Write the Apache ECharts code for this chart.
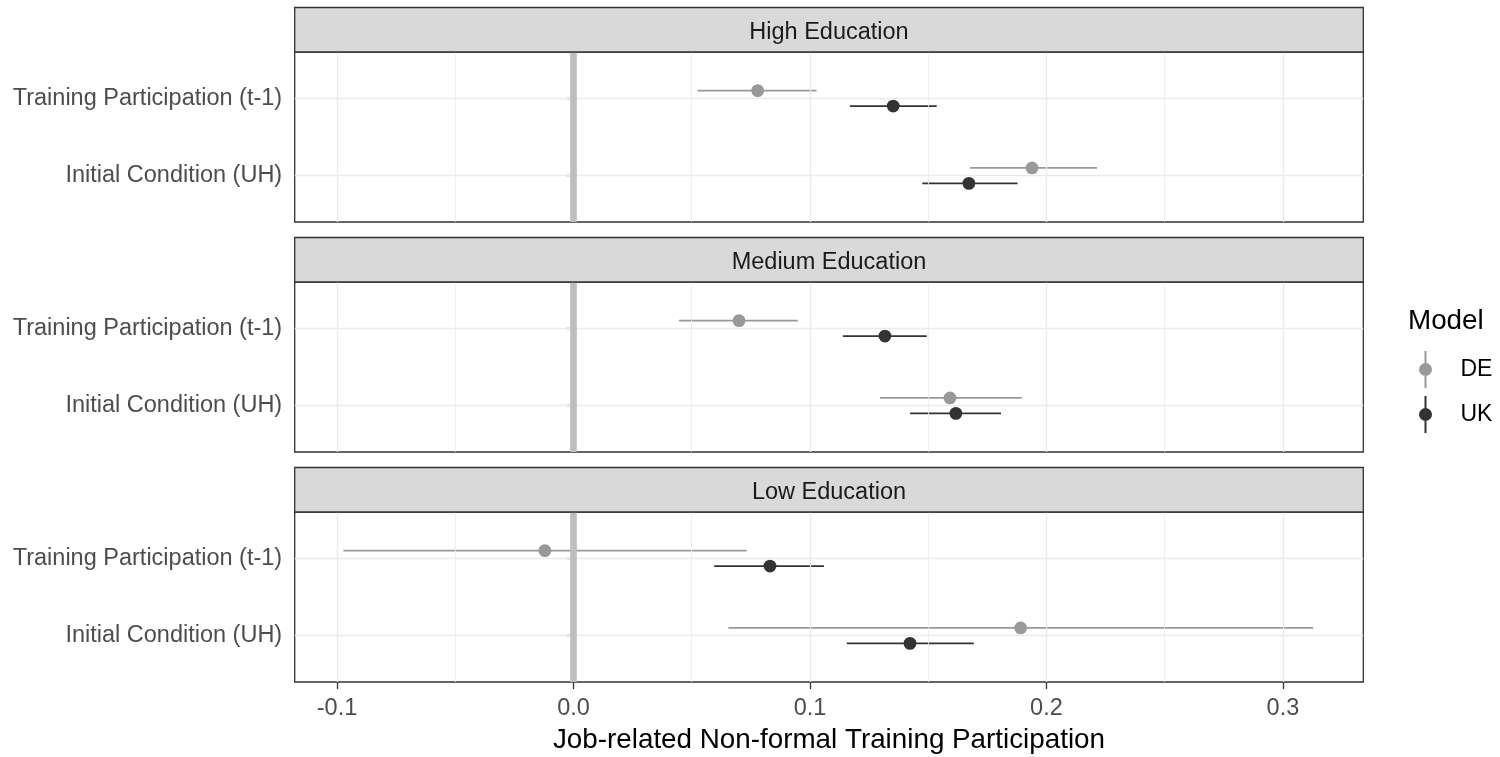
<!DOCTYPE html>
<html>
<head>
<meta charset="utf-8">
<script src="https://cdn.jsdelivr.net/npm/echarts@6/dist/echarts.min.js"></script>
<style>
  html, body { margin: 0; padding: 0; background: #fff; }
  #chart { width: 1500px; height: 757px; }
</style>
</head>
<body>
<div id="chart"></div>
<script>
// facets, top to bottom
const panels = ['High Education', 'Medium Education', 'Low Education']
// y categories, bottom to top
const terms = ['Initial Condition (UH)', 'Training Participation (t-1)']
const models = ['DE', 'UK']

// per panel: [Initial Condition (UH), Training Participation (t-1)]
const deEstimate = [[0.1939, 0.0779], [0.1592, 0.0700], [0.1891, -0.0121]]
const deLower = [[0.1677, 0.0525], [0.1296, 0.0446], [0.0655, -0.0973]]
const deUpper = [[0.2214, 0.1028], [0.1896, 0.0949], [0.3128, 0.0732]]

const ukEstimate = [[0.1672, 0.1352], [0.1617, 0.1317], [0.1423, 0.0831]]
const ukLower = [[0.1475, 0.1169], [0.1423, 0.1139], [0.1156, 0.0595]]
const ukUpper = [[0.1878, 0.1536], [0.1808, 0.1494], [0.1693, 0.1059]]

const xTicks = [-0.1, 0, 0.1, 0.2, 0.3]
const xMinor = [-0.05, 0.05, 0.15, 0.25]

const FONT = '"Liberation Sans", Arial, sans-serif'
const colors = { DE: '#999999', UK: '#333333' }
const dodge = { DE: 0.1, UK: -0.1 }

const left = 294.7, width = 1068.6
const panelTop = 52, panelH = 170, step = 230, stripH = 44.5

const chart = echarts.init(document.getElementById('chart'), null, { renderer: 'canvas' })

function renderItem(params, api) {
    const y = api.value(1)
    const c = api.coord([api.value(0), y])
    const a = api.coord([api.value(2), y])
    const b = api.coord([api.value(3), y])
    const color = api.visual('color')
    return {
        type: 'group',
        children: [
            { type: 'line', shape: { x1: a[0], y1: a[1], x2: b[0], y2: b[1] }, style: { stroke: color, lineWidth: 1.6 } },
            { type: 'circle', shape: { cx: c[0], cy: c[1], r: 6.4 }, style: { fill: color } }
        ]
    }
}

const grids = [], xAxes = [], yAxes = [], series = [], graphics = []

panels.forEach((name, i) => {
    const last = i === panels.length - 1
    grids.push({
        left, width, top: panelTop + step * i, height: panelH,
        show: true, borderColor: '#333333', borderWidth: 1.3, backgroundColor: '#fff'
    })
    xAxes.push({
        gridIndex: i, type: 'value', min: -0.1179, max: 0.334,
        splitLine: { show: false },
        axisLine: { show: false },
        axisTick: { show: last, customValues: xTicks, length: 7, lineStyle: { color: '#333333', width: 1.3 } },
        axisLabel: {
            show: last, customValues: xTicks, margin: 15,
            formatter: v => v.toFixed(1),
            color: '#4D4D4D', fontSize: 23.5, fontFamily: FONT
        },
        name: last ? 'Job-related Non-formal Training Participation' : '',
        nameLocation: 'middle', nameGap: 44,
        nameTextStyle: { color: '#000', fontSize: 27.8, fontFamily: FONT }
    })
    yAxes.push({
        gridIndex: i, type: 'value', min: 0.4, max: 2.6,
        splitLine: { show: false },
        axisLine: { show: false },
        axisTick: { show: true, customValues: [1, 2], length: 7, lineStyle: { color: '#333333', width: 1.3 } },
        axisLabel: {
            customValues: [1, 2], margin: 12.5, padding: [4, 0, 0, 0],
            formatter: v => terms[Math.round(v) - 1],
            color: '#4D4D4D', fontSize: 23.5, fontFamily: FONT
        }
    })

    // background grid lines
    const gridLines = []
    xMinor.forEach(v => gridLines.push({ xAxis: v, lineStyle: { color: '#EBEBEB', width: 0.8 } }))
    xTicks.forEach(v => gridLines.push({ xAxis: v, lineStyle: { color: '#EBEBEB', width: 1.3 } }))
    ;[1, 2].forEach(v => gridLines.push({ yAxis: v, lineStyle: { color: '#EBEBEB', width: 1.3 } }))
    series.push({
        type: 'scatter', xAxisIndex: i, yAxisIndex: i, z: 1, silent: true,
        data: [[0, 1]], symbolSize: 0,
        markLine: {
            silent: true, symbol: ['none', 'none'], animation: false,
            label: { show: false }, lineStyle: { type: 'solid' },
            data: gridLines
        }
    })

    const est = { DE: deEstimate[i], UK: ukEstimate[i] }
    const lo = { DE: deLower[i], UK: ukLower[i] }
    const hi = { DE: deUpper[i], UK: ukUpper[i] }
    models.forEach(m => {
        series.push({
            name: m, type: 'custom', xAxisIndex: i, yAxisIndex: i, z: 3,
            renderItem,
            itemStyle: { color: colors[m] },
            encode: { x: [0, 2, 3], y: 1 },
            data: terms.map((t, j) => [est[m][j], j + 1 + dodge[m], lo[m][j], hi[m][j]]),
            animation: false
        })
    })

    // zero reference line
    series.push({
        type: 'scatter', xAxisIndex: i, yAxisIndex: i, z: 4, silent: true,
        data: [[0, 1]], symbolSize: 0,
        markLine: {
            silent: true, symbol: ['none', 'none'], animation: false,
            label: { show: false },
            data: [{ xAxis: 0, lineStyle: { type: 'solid', color: '#BEBEBE', width: 6.7 } }]
        }
    })

    // facet strip
    const sy = panelTop + step * i - stripH
    graphics.push({
        type: 'rect', shape: { x: left, y: sy, width, height: stripH },
        style: { fill: '#D9D9D9', stroke: '#333333', lineWidth: 1.3 }, z: 10
    })
    graphics.push({
        type: 'text', x: left + width / 2, y: sy + stripH / 2 + 3, z: 11,
        style: { text: name, fill: '#1A1A1A', font: '23.5px ' + FONT, textAlign: 'center', textVerticalAlign: 'middle' }
    })
})

chart.setOption({
    animation: false,
    title: {
        text: 'Model', left: 1403, top: 302,
        textStyle: { fontSize: 27.8, fontWeight: 'normal', color: '#000', fontFamily: FONT }
    },
    legend: {
        data: models, orient: 'vertical', left: 1414, top: 346,
        itemWidth: 60, itemHeight: 37, itemGap: 8,
        icon: 'path://M6,0L8,0L8,37L6,37Z M0.5,18.5A6.5,6.5 0 1 1 13.5,18.5A6.5,6.5 0 1 1 0.5,18.5Z',
        itemStyle: { borderWidth: 0 },
        textStyle: { fontSize: 23, color: '#000', fontFamily: FONT }
    },
    grid: grids,
    xAxis: xAxes,
    yAxis: yAxes,
    series,
    graphic: graphics
})
</script>
</body>
</html>
